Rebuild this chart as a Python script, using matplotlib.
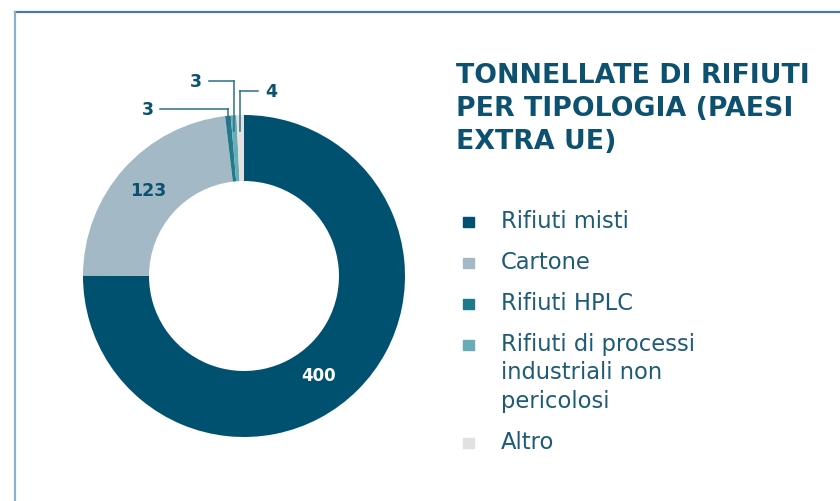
"""Donut chart: tonnellate di rifiuti per tipologia (paesi extra UE)."""

import matplotlib.pyplot as plt
import numpy as np
from matplotlib.lines import Line2D
from matplotlib.patches import Rectangle

categories = [
    "Rifiuti misti",
    "Cartone",
    "Rifiuti HPLC",
    "Rifiuti di processi\nindustriali non\npericolosi",
    "Altro",
]
tonnes = [400, 123, 3, 3, 4]
colors = ["#00506f", "#a3b9c6", "#1f7b8c", "#6aacb5", "#e1e1e1"]

TITLE = "TONNELLATE DI RIFIUTI\nPER TIPOLOGIA (PAESI\nEXTRA UE)"
DARK = "#0d5170"
TEXT = "#1d5b77"
LEADER = "#2b6f88"
FONT = "DejaVu Sans"

W, H = 840, 502
fig = plt.figure(figsize=(W / 100, H / 100), dpi=100)
fig.patch.set_facecolor("white")

# frame lines (top + left)
fig.add_artist(Line2D([15 / W, 1], [1 - 13 / H] * 2, color="#4f7797", lw=1.6))
fig.add_artist(Line2D([15 / W] * 2, [0, 1 - 13 / H], color="#8fb0c8", lw=1.6))

# donut
cx, cy, r = 244, 277, 161
ax = fig.add_axes([(cx - r) / W, (H - cy - r) / H, 2 * r / W, 2 * r / H])
wedges, _ = ax.pie(
    tonnes,
    colors=colors,
    startangle=90,
    counterclock=False,
    radius=1,
    wedgeprops=dict(width=0.41, edgecolor="none"),
)
ax.set_xlim(-1, 1)
ax.set_ylim(-1, 1)
ax.set_aspect("equal")
ax.axis("off")

mid = [np.deg2rad((w.theta1 + w.theta2) / 2) for w in wedges]

# labels inside the ring
ax.text(0.77 * np.cos(mid[0] - 0.14), 0.77 * np.sin(mid[0] - 0.14), str(tonnes[0]),
        ha="center", va="center", color="white", fontsize=12, fontweight="bold",
        family=FONT)
ax.text(0.8 * np.cos(mid[1]), 0.8 * np.sin(mid[1]), str(tonnes[1]),
        ha="center", va="center", color=DARK, fontsize=12.5, fontweight="bold",
        family=FONT)

# leader labels for the tiny slices: (slice index, label x, label y, side)
leaders = [(2, -0.60, 1.04, "left"), (3, -0.30, 1.21, "left"), (4, 0.17, 1.15, "right")]
for i, lx, ly, side in leaders:
    px = np.cos(mid[i])
    ax.plot([px, px], [0.9, ly], color=LEADER, lw=1.1, clip_on=False)
    gap = 0.08
    x0 = lx + gap if side == "left" else lx - gap
    ax.plot([x0, px], [ly, ly], color=LEADER, lw=1.1, clip_on=False)
    ax.text(lx, ly, str(tonnes[i]), ha="center", va="center", color=DARK,
            fontsize=12.5, fontweight="bold", family=FONT, clip_on=False)

# title
fig.text(456 / W, 1 - 63 / H, TITLE, ha="left", va="top", color=DARK,
         fontsize=19.3, fontweight="bold", family=FONT, linespacing=1.34)

# legend, drawn by hand so that wrapped labels keep the marker on line one
base = 228
for name, col in zip(categories, colors):
    fig.patches.append(Rectangle((463 / W, 1 - base / H), 11 / W, 10 / H,
                                 transform=fig.transFigure, color=col))
    for line in name.split("\n"):
        fig.text(501 / W, 1 - base / H, line, ha="left", va="baseline",
                 color=TEXT, fontsize=16.3, family=FONT)
        base += 28.5
    base += 41 - 28.5

fig.savefig("out.png", dpi=100)
